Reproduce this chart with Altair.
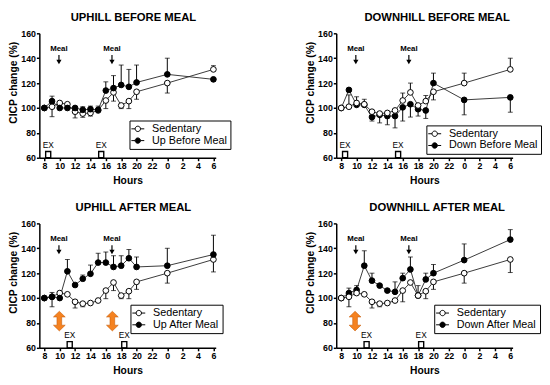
import altair as alt
import pandas as pd

hours = [8, 9, 10, 11, 12, 13, 14, 15, 16, 17, 18, 19, 20, 24, 30]
sedentary = [100, 101, 104, 103, 97, 95.5, 96, 98, 106, 112.5, 102, 105.5, 113, 120, 131]

up_before = [100, 105.5, 100, 100, 100, 98.5, 99, 98.5, 114, 116, 118.5, 117, 120.5, 127, 123]
up_before_tip = [None, 109.5, None, None, None, 101, 101.5, 101.5, 121, 126, 134.5, 131, 134.5, 140, 121.5]
sed_tip_ub = [None, 93, None, None, 92, 92.5, 93.5, None, 99.5, 105.5, 99.5, 99.5, 107, 112, 134]

down_before = [100, 114.5, 102.5, 102.5, 92.7, 94.5, 93.5, 93.5, 100.5, 103, 99, 98, 120, 106.5, 108.5]
down_before_tip = [None, None, None, None, 89.5, 88, 86.5, 84, 89.5, 92.7, 93.5, 91.6, 128, 94.5, 96.6]
sed_tip_db = [None, 110.5, 109, 107, None, None, None, None, 112, 120, None, 110, 106.5, 128, 140]

up_after = [100, 101, 100, 121.5, 110.5, 115.5, 119.5, 128.5, 128.5, 125, 126, 132, 125, 126, 135]
up_after_tip = [None, 104.5, None, 131, None, 118.5, 126.5, 136, 137, 134, 134, 139, 133, 140, 150.5]
sed_tip_ua = [None, 93, None, None, 92, 93, None, None, 99.5, 106, 99.5, 99.5, 107, 112, 121]

down_after = [100, 104, 106.5, 126, 114, 110, 106, 105, 116, 123, 102, 115, 120, 130.5, 147]
down_after_tip = [None, 108, 110, 138, 120, None, None, 113, 120, 133, 110, 120, 127, 143.5, 155]
sed_tip_da = [None, 93, None, None, 92, 93, None, None, 97, None, None, 99.5, 107, 112, 120.5]

meal_hours = [9.9, 16.8]
ex_before = [8.5, 15.4]
ex_after = [11.3, 18.4]
orange_ua = [9.95, 16.85]
orange_da = [9.8]

x_ticks = [8, 10, 12, 14, 16, 18, 20, 22, 24, 26, 28, 30]
y_ticks = [60, 80, 100, 120, 140, 160]

ARROW = "M0,-1L0.6,-0.42L0.24,-0.42L0.24,0.42L0.6,0.42L0,1L-0.6,0.42L-0.24,0.42L-0.24,-0.42L-0.6,-0.42Z"
LEGSYM = "M-2.4,0L-1,0M1,0L2.4,0M-1,0A1,1,0,1,0,1,0A1,1,0,1,0,-1,0Z"

XS = alt.Scale(domain=[7.35, 30.3], nice=False, zero=False)
YS = alt.Scale(domain=[60, 160], nice=False, zero=False)
XA = alt.Axis(values=x_ticks, title="Hours", tickCount=12,
              labelExpr="datum.value >= 24 ? datum.value - 24 : datum.value",
              titleFontSize=10.5, titlePadding=5, labelFlush=False, labelOverlap=False)
YA = alt.Axis(values=y_ticks, title="CICP change (%)", titleFontSize=10.5, tickCount=6,
              titlePadding=2, titleY=50, labelFlush=False, labelOverlap=False)


def xe(f):
    return alt.X(f, type="quantitative", scale=XS, axis=XA)


def ye(f):
    return alt.Y(f, type="quantitative", scale=YS, axis=YA)


def yd(v):
    return alt.YDatum(v, scale=YS, axis=YA)


def panel(title, label, vals, tips, sed_tips, ex_hours, orange_hours, lx, ly, tdx):
    df = pd.DataFrame({
        "hour": hours + hours,
        "value": sedentary + vals,
        "tip": sed_tips + tips,
        "series": ["Sedentary"] * len(hours) + [label] * len(hours),
    })
    base = alt.Chart(df)
    line = base.mark_line(color="#222", strokeWidth=0.9).encode(
        x=xe("hour"), y=ye("value"), detail="series:N")
    err = base.transform_filter("isValid(datum.tip)")
    rule = err.mark_rule(color="black", strokeWidth=1).encode(
        x=xe("hour"), y=ye("value"), y2="tip:Q")
    cap = err.mark_tick(orient="horizontal", size=5, thickness=1, color="black").encode(
        x=xe("hour"), y=ye("tip"))
    pts = base.mark_point(shape="circle", size=34, stroke="black", strokeWidth=1,
                          opacity=1, fillOpacity=1).encode(
        x=xe("hour"), y=ye("value"),
        fill=alt.Fill("series:N",
                      scale=alt.Scale(domain=["Sedentary", label], range=["white", "black"]),
                      legend=alt.Legend(title=None, orient="none", legendX=lx, legendY=ly,
                                        direction="vertical", fillColor="white",
                                        strokeColor="black", padding=3, labelFontSize=11,
                                        labelFont="Liberation Sans", labelColor="black",
                                        symbolType=LEGSYM, symbolSize=30,
                                        symbolStrokeColor="black", symbolStrokeWidth=1,
                                        labelOffset=9, rowPadding=0, offset=0)),
        order=alt.Order("series:N"))

    mdf = alt.Chart(pd.DataFrame({"hour": meal_hours}))
    meal_t = mdf.mark_text(text="Meal", fontSize=8, fontWeight="bold", font="Liberation Sans",
                           baseline="bottom").encode(x=xe("hour"), y=yd(144))
    meal_r = mdf.mark_rule(color="black", strokeWidth=1.2).encode(
        x=xe("hour"), y=yd(142.5), y2=alt.datum(137.5))
    meal_h = mdf.mark_point(shape="triangle-down", filled=True, size=28, color="black",
                            opacity=1).encode(x=xe("hour"), y=yd(137))

    edf = alt.Chart(pd.DataFrame({"hour": ex_hours})).transform_calculate(
        x0="datum.hour - 0.33", x1="datum.hour + 0.33")
    ex_t = edf.mark_text(text="EX", fontSize=8.5, font="Liberation Sans",
                         baseline="bottom").encode(x=xe("hour"), y=yd(66.5))
    ex_r = edf.mark_rect(fill="white", fillOpacity=0, stroke="black", strokeWidth=1.4).encode(
        x=xe("x0"), x2="x1:Q", y=yd(60), y2=alt.datum(65))

    layers = [line, rule, cap, pts, meal_t, meal_r, meal_h, ex_t, ex_r]
    if orange_hours:
        odf = alt.Chart(pd.DataFrame({"hour": orange_hours}))
        layers.append(odf.mark_point(shape=ARROW, size=400, fill="#F58220", stroke="#C9600E",
                                     strokeWidth=0.6, opacity=1, fillOpacity=1).encode(
            x=xe("hour"), y=yd(81.5)))

    return alt.layer(*layers).properties(
        width=180, height=127,
        title=alt.TitleParams(title, fontSize=11.5, fontWeight="bold", font="Liberation Sans",
                              anchor="middle", dx=tdx, offset=6, color="black"))


p1 = panel("UPHILL BEFORE MEAL", "Up Before Meal", up_before, up_before_tip, sed_tip_ub,
           ex_before, [], 92, 89, 6)
p2 = panel("DOWNHILL BEFORE MEAL", "Down Before Meal", down_before, down_before_tip, sed_tip_db,
           ex_before, [], 92, 94, 13)
p3 = panel("UPHILL AFTER MEAL", "Up After Meal", up_after, up_after_tip, sed_tip_ua,
           ex_after, orange_ua, 93, 83, 6)
p4 = panel("DOWNHILL AFTER MEAL", "Down After Meal", down_after, down_after_tip, sed_tip_da,
           ex_after, orange_da, 100, 83, 13)

chart = alt.concat(p1, p2, p3, p4, columns=2, spacing={"row": 67, "column": 123},
                   bounds="flush").resolve_scale(fill="independent").resolve_legend(
    fill="independent").properties(
    padding={"left": 0, "top": 0, "right": 0, "bottom": 0}
).configure_view(strokeWidth=0).configure_axis(
    grid=False, domainColor="black", domainWidth=1.5, tickColor="black", tickWidth=1.5,
    tickSize=3, labelFont="Liberation Sans", labelFontWeight="bold", labelFontSize=9,
    labelColor="black", titleFont="Liberation Sans", titleFontWeight="bold",
    titleColor="black", labelPadding=1, labelOverlap=False, labelBound=False)

chart.save("out.html", embed_options={"renderer": "svg", "actions": False})
